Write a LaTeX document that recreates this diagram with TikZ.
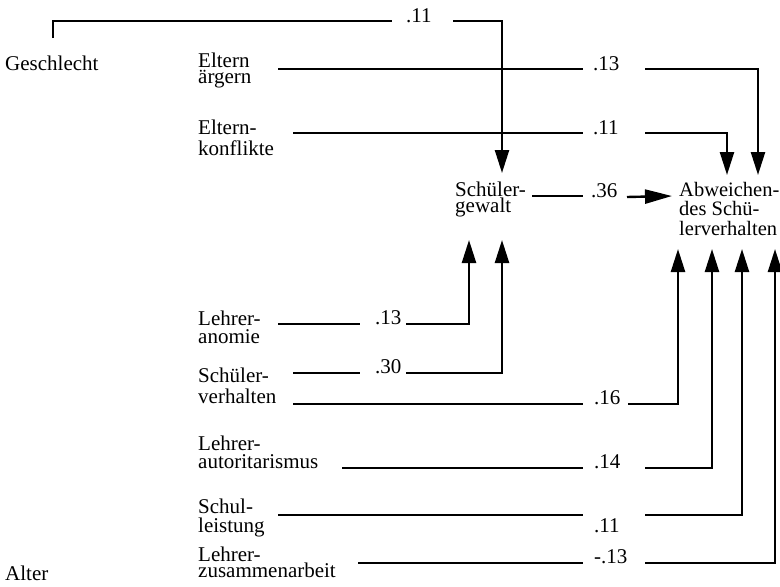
\documentclass[tikz,border=0pt]{standalone}
\usepackage{fontspec}
\setmainfont{Liberation Serif}
\usetikzlibrary{arrows.meta}
\newcommand{\twoline}[3]{\vtop{\baselineskip=#3\lineskiplimit=-100pt\hbox{#1}\hbox{#2}}}
\newcommand{\threeline}[4]{\vtop{\baselineskip=#4\lineskiplimit=-100pt\hbox{#1}\hbox{#2}\hbox{#3}}}
\begin{document}
\begin{tikzpicture}[x=1pt,y=-1pt,
  lbl/.style={anchor=base west,inner sep=0pt,font=\fontsize{21}{21}\selectfont},
  coef/.style={anchor=base west,inner sep=0pt,font=\fontsize{21}{21}\selectfont},
  conn/.style={line width=2.4pt,line join=miter},
  arr/.style={conn,-{Triangle[length=23pt,width=14pt]}}]
\path[use as bounding box,fill=white] (0,0) rectangle (780,587);
% variable labels
\node[lbl] (ges) at (5,70) {Geschlecht};
\node[lbl] (alt) at (5,580) {Alter};
\node[lbl] (ea) at (198,67) {\twoline{Eltern}{ärgern}{16pt}};
\node[lbl] (ek) at (198,134) {\twoline{Eltern-}{konflikte}{21pt}};
\node[lbl] (sg) at (455,196) {\twoline{Schüler-}{gewalt}{16pt}};
\node[lbl,font=\fontsize{20.5}{20.5}\selectfont] (ab) at (679,196) {\threeline{Abweichen-}{des Schü-}{lerverhalten}{19.5pt}};
\node[lbl] (la) at (198,325) {\twoline{Lehrer-}{anomie}{18pt}};
\node[lbl] (sv) at (198,382) {\twoline{Schüler-}{verhalten}{21pt}};
\node[lbl] (lau) at (198,450) {\twoline{Lehrer-}{autoritarismus}{18pt}};
\node[lbl] (sl) at (198,513) {\twoline{Schul-}{leistung}{19pt}};
\node[lbl] (lz) at (198,561) {\twoline{Lehrer-}{zusammenarbeit}{16pt}};
% coefficients
\node[coef] (c0) at (406,22) {.11};
\node[coef] (c1) at (593,70) {.13};
\node[coef] (c2) at (593,134) {.11};
\node[coef] (c3) at (591,197) {.36};
\node[coef] (c4) at (375,324) {.13};
\node[coef] (c5) at (375,373) {.30};
\node[coef] (c6) at (594,404) {.16};
\node[coef] (c7) at (594,468) {.14};
\node[coef] (c8) at (594,532) {.11};
\node[coef] (c9) at (594,563) {-.13};
% connector points
\coordinate (g0) at (53,38);
\coordinate (g1) at (392,21);
\coordinate (g2) at (453,21);
\coordinate (sgTop) at (502,173);
\coordinate (sgB1) at (469,240);
\coordinate (sgB2) at (502,240);
\coordinate (abT1) at (727,175);
\coordinate (abT2) at (758,175);
\coordinate (abB1) at (678,249);
\coordinate (abB2) at (712,249);
\coordinate (abB3) at (742,249);
\coordinate (abB4) at (775,249);
% Geschlecht -> Schuelergewalt
\draw[conn] (g0) |- (g1);
\draw[arr] (g2) -| (sgTop);
% Eltern aergern
\draw[conn] (278,69) -- (583,69);
\draw[arr] (645,69) -| (abT2);
% Elternkonflikte
\draw[conn] (293,133) -- (583,133);
\draw[arr] (645,133) -| (abT1);
% Schuelergewalt -> Abweichendes
\draw[conn] (532,196) -- (583,196);
\draw[conn,-{Triangle[length=27pt,width=14pt]}] (627,197) -- (672,196);
% Lehreranomie
\draw[conn] (278,324) -- (360,324);
\draw[arr] (406,324) -| (sgB1);
% Schuelerverhalten
\draw[conn] (293,373) -- (360,373);
\draw[arr] (406,373) -| (sgB2);
\draw[conn] (293,404) -- (583,404);
\draw[arr] (628,404) -| (abB1);
% Lehrerautoritarismus
\draw[conn] (342,468) -- (583,468);
\draw[arr] (645,468) -| (abB2);
% Schulleistung
\draw[conn] (278,515) -- (583,515);
\draw[arr] (645,515) -| (abB3);
% Lehrerzusammenarbeit
\draw[conn] (358,563) -- (583,563);
\draw[arr] (645,563) -| (abB4);
\end{tikzpicture}
\end{document}
